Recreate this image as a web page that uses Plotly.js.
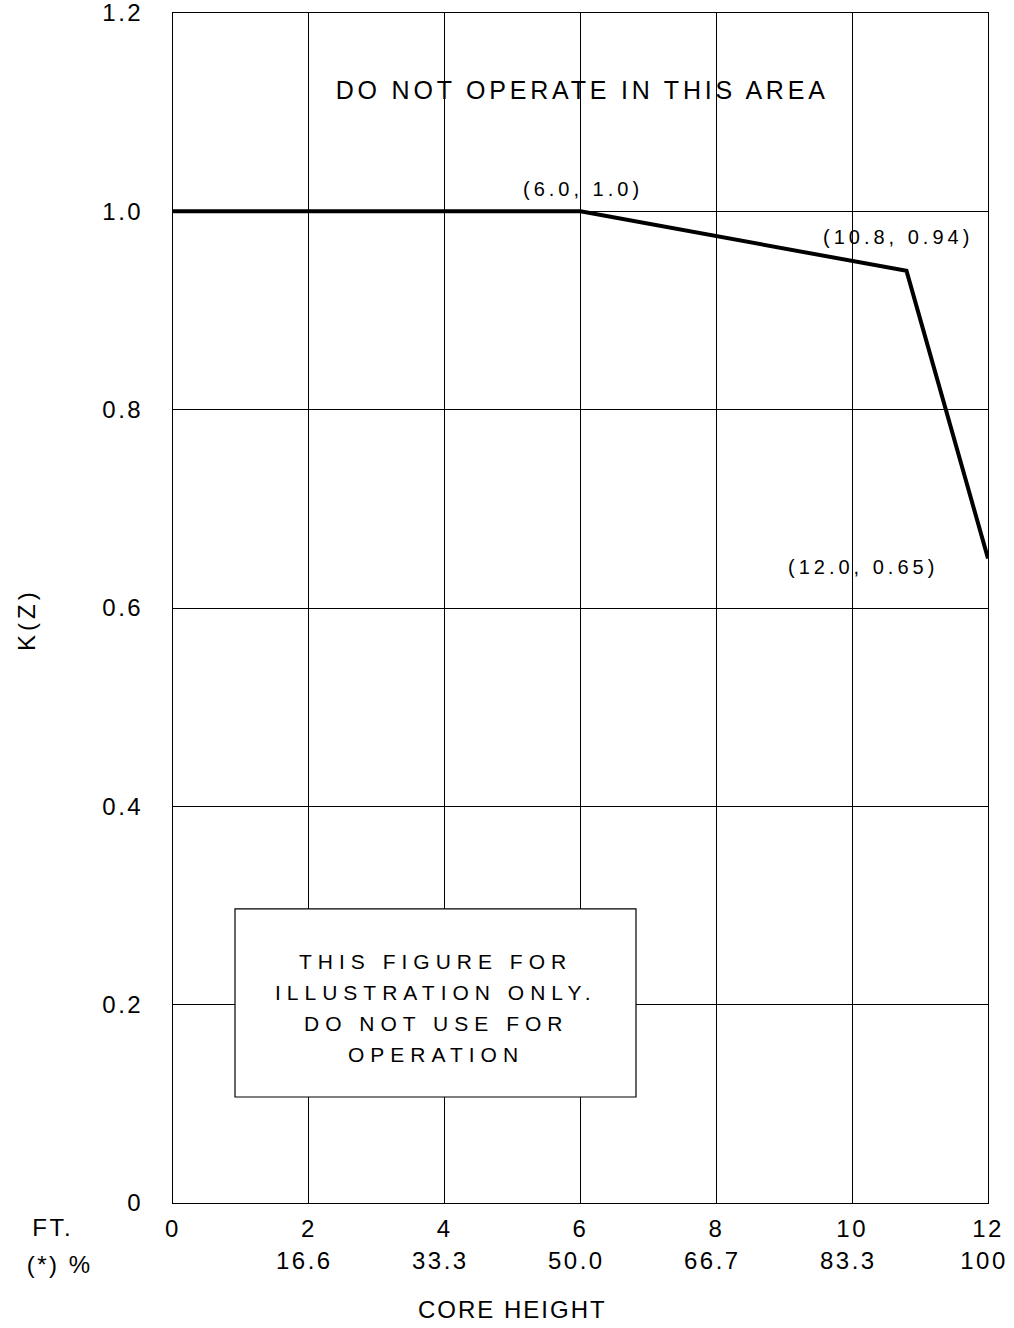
<!DOCTYPE html>
<html>
<head>
<meta charset="utf-8">
<script src="https://cdn.plot.ly/plotly-3.0.1.min.js"></script>
<style>
  html, body { margin: 0; padding: 0; background: #fff; }
  #chart { width: 1014px; height: 1328px; }
  .main-svg text { letter-spacing: 2.5px; }
</style>
</head>
<body>
<div id="chart"></div>
<script>
// Curve K(Z) vs core height (ft)
const coreHeightFt = [0, 6.0, 10.8, 12.0];
const kz = [1.0, 1.0, 0.94, 0.65];

// Axis ticks
const xTickVals = [0, 2, 4, 6, 8, 10, 12];
const xTickFt = ["0", "2", "4", "6", "8", "10", "12"];
const xTickPctVals = [2, 4, 6, 8, 10, 12];
const xTickPct = ["16.6", "33.3", "50.0", "66.7", "83.3", "100"];
const yTickVals = [0, 0.2, 0.4, 0.6, 0.8, 1.0, 1.2];
const yTickText = ["0", "0.2", "0.4", "0.6", "0.8", "1.0", "1.2"];

// Point labels
const pointLabels = ["(6.0, 1.0)", "(10.8, 0.94)", "(12.0, 0.65)"];
const pointLabelX = [6.04, 10.67, 10.16];
const pointLabelY = [1.0225, 0.974, 0.641];

// Notes
const topNote = "DO NOT OPERATE IN THIS AREA";
const boxLines = ["THIS FIGURE FOR", "ILLUSTRATION ONLY.", "DO NOT USE FOR", "OPERATION"];
const boxLineY = [0.244, 0.2127, 0.1815, 0.150];
const boxX = [0.913, 6.817];
const boxY = [0.1069, 0.2965];

const FONT = "Liberation Sans, Arial, Helvetica, sans-serif";

const annotations = [];
const spacing = [];
function addAnn(a, ls) {
  annotations.push(Object.assign({showarrow: false, xanchor: 'center', yanchor: 'middle'}, a));
  spacing.push(ls);
}
pointLabels.forEach((t, i) => addAnn({
  x: pointLabelX[i], y: pointLabelY[i], xref: 'x', yref: 'y', text: t,
  font: {family: FONT, size: 20, color: '#000'}
}, 4));
addAnn({
  x: 6.03, y: 1.122, xref: 'x', yref: 'y', text: topNote,
  font: {family: FONT, size: 25, color: '#000'}
}, 3.8);
boxLines.forEach((t, i) => addAnn({
  x: (boxX[0] + boxX[1]) / 2, y: boxLineY[i], xref: 'x', yref: 'y', text: t,
  font: {family: FONT, size: 21, color: '#000'}
}, 6));
xTickPctVals.forEach((v, i) => addAnn({
  x: v - 0.06, y: -0.0487, xref: 'x', yref: 'paper', text: xTickPct[i],
  font: {family: FONT, size: 24, color: '#000'}
}, 2.5));
addAnn({x: -0.148, y: -0.0202, xref: 'paper', yref: 'paper', text: 'FT.',
  font: {family: FONT, size: 24, color: '#000'}}, 2.5);
addAnn({x: -0.139, y: -0.052, xref: 'paper', yref: 'paper', text: '(*) %',
  font: {family: FONT, size: 24, color: '#000'}}, 2.5);
addAnn({x: 0.417, y: -0.0899, xref: 'paper', yref: 'paper', text: 'CORE HEIGHT',
  font: {family: FONT, size: 24, color: '#000'}}, 2);
addAnn({x: -0.179, y: 0.49, xref: 'paper', yref: 'paper', text: 'K(Z)',
  textangle: -90, font: {family: FONT, size: 24, color: '#000'}}, 4);

const trace = {
  x: coreHeightFt, y: kz, type: 'scatter', mode: 'lines',
  line: {color: '#000', width: 4}, hoverinfo: 'skip'
};

const layout = {
  width: 1014, height: 1328,
  margin: {l: 173, r: 26, t: 13, b: 125},
  paper_bgcolor: '#fff', plot_bgcolor: '#fff',
  showlegend: false,
  font: {family: FONT, color: '#000'},
  xaxis: {
    range: [0, 12], tickvals: xTickVals, ticktext: xTickFt,
    showgrid: true, gridcolor: '#000', gridwidth: 1,
    showline: true, linecolor: '#000', linewidth: 1, mirror: true,
    zeroline: false, ticks: '', ticklabelstandoff: 4, ticklabeloverflow: 'allow',
    tickfont: {family: FONT, size: 24, color: '#000'}, fixedrange: true
  },
  yaxis: {
    range: [0, 1.2], tickvals: yTickVals, ticktext: yTickText,
    showgrid: true, gridcolor: '#000', gridwidth: 1,
    showline: true, linecolor: '#000', linewidth: 1, mirror: true,
    zeroline: false, ticks: '', ticklabelstandoff: 24, ticklabeloverflow: 'allow',
    tickfont: {family: FONT, size: 24, color: '#000'}, fixedrange: true
  },
  shapes: [{
    type: 'rect', xref: 'x', yref: 'y',
    x0: boxX[0], x1: boxX[1], y0: boxY[0], y1: boxY[1],
    fillcolor: '#fff', line: {color: '#000', width: 1.2}, layer: 'above'
  }],
  annotations: annotations
};

Plotly.newPlot('chart', [trace], layout, {staticPlot: true, displayModeBar: false}).then(() => {
  spacing.forEach((ls, i) => {
    document.querySelectorAll('g.annotation[data-index="' + i + '"] text').forEach(t => {
      t.style.letterSpacing = ls + 'px';
    });
  });
});
</script>
</body>
</html>
